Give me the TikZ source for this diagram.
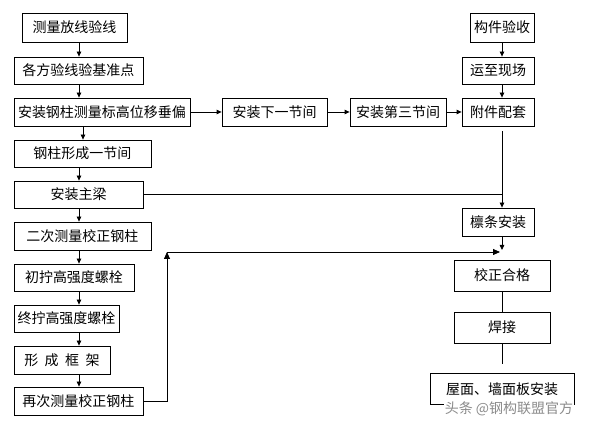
\documentclass[tikz,border=0pt]{standalone}
\usepackage{fontspec}
\newfontfamily\cjk{Noto Sans CJK SC}
\usetikzlibrary{arrows.meta}
\begin{document}
\begin{tikzpicture}[x=1pt,y=-1pt,
  box/.style={draw, line width=0.8pt, inner sep=0pt, font=\cjk\fontsize{14}{14}\selectfont},
  arr/.style={line width=0.8pt,-{Triangle[length=5pt,width=4.5pt]}},
  bigarr/.style={line width=0.8pt,-{Triangle[length=7pt,width=6pt]}},
  ln/.style={line width=0.8pt}]
\useasboundingbox (0,0) rectangle (590,427);
\fill[white] (0,0) rectangle (590,427);
% left column
\node[box, minimum width=105pt, minimum height=29pt] (n1) at (74.5,27.5) {测量放线验线};
\node[box, minimum width=129pt, minimum height=27pt] (n2) at (78.5,70.5) {各方验线验基准点};
\node[box, minimum width=176pt, minimum height=28pt] (n3) at (102,112) {安装钢柱测量标高位移垂偏};
\node[box, minimum width=105pt, minimum height=28pt] (n4) at (274.5,112) {安装下一节间};
\node[box, minimum width=96pt, minimum height=28pt] (n5) at (398,112) {安装第三节间};
\node[box, minimum width=72pt, minimum height=28pt] (n6) at (498,112) {附件配套};
\node[box, minimum width=72pt, minimum height=27pt] (n7) at (498,70.5) {运至现场};
\node[box, minimum width=64pt, minimum height=29pt] (n8) at (502,27.5) {构件验收};
\node[box, minimum width=137pt, minimum height=27pt] (n9) at (82.5,153.5) {钢柱形成一节间};
\node[box, minimum width=129pt, minimum height=27pt] (n10) at (78.5,194.5) {安装主梁};
\node[box, minimum width=72pt, minimum height=28pt] (n11) at (498,222) {檩条安装};
\node[box, minimum width=137pt, minimum height=28pt] (n12) at (82.5,236) {二次测量校正钢柱};
\node[box, minimum width=120pt, minimum height=27pt] (n13) at (74,277.5) {初拧高强度螺栓};
\node[box, minimum width=105pt, minimum height=27pt] (n14) at (66.5,318.5) {终拧高强度螺栓};
\node[box, minimum width=96pt, minimum height=28pt] (n15) at (62,360) {形\hspace{6.5pt}成\hspace{6.5pt}框\hspace{6.5pt}架};
\node[box, minimum width=129pt, minimum height=28pt] (n16) at (78.5,401) {再次测量校正钢柱};
\node[box, minimum width=96pt, minimum height=31pt] (n17) at (502,275.5) {校正合格};
\node[box, minimum width=96pt, minimum height=31pt] (n18) at (502,327.5) {焊接};
\node[box, minimum width=144pt, minimum height=31pt] (n19) at (502,389) {屋面、墙面板安装};
% helper coordinates
\coordinate (cL) at (79,0);
\coordinate (cL2) at (83,0);
\coordinate (cR) at (502,0);
\coordinate (n6b) at ([yshift=-5pt]n6.south);
\coordinate (J) at (502,250);
\coordinate (J2) at (500,252);
\coordinate (K) at (167,252);
\coordinate (E) at (502,364);
% left chain
\draw[arr] (n1.south -| cL) -- (n2.north -| cL);
\draw[arr] (n2.south -| cL) -- (n3.north -| cL);
\draw[arr] (n3.south -| cL2) -- (n9.north -| cL2);
\draw[arr] (n9.south -| cL) -- (n10.north -| cL);
\draw[arr] (n10.south -| cL) -- (n12.north -| cL);
\draw[arr] (n12.south -| cL) -- (n13.north -| cL);
\draw[arr] (n13.south -| cL) -- (n14.north -| cL);
\draw[arr] (n14.south -| cL) -- (n15.north -| cL);
\draw[arr] (n15.south -| cL) -- (n16.north -| cL);
% top row
\draw[arr] (n3.east) -- (n4.west);
\draw[arr] (n4.east) -- (n5.west);
\draw[arr] (n5.east) -- (n6.west);
% right column
\draw[arr] (n8.south) -- (n7.north -| n8.south);
\draw[arr] (n7.south -| cR) -- (n6.north -| cR);
\draw[ln] (n10.east) -- (n10.east -| cR);
\draw[arr] (n6b -| cR) -- (n11.north -| cR);
\draw[arr] (n11.south -| cR) -- (J);
\draw[bigarr] (n16.east) -| (K);
\draw[bigarr] (K) -- (J2);
\draw[ln] (n17.south -| cR) -- (n18.north -| cR);
\draw[ln] (n18.south -| cR) -- (E);
% watermark
\node[font=\cjk\fontsize{14}{14}\selectfont, text=black!45, fill=white, inner sep=0.5pt] (wm) at (509,408.5) {头条 @钢构联盟官方};
\end{tikzpicture}
\end{document}
